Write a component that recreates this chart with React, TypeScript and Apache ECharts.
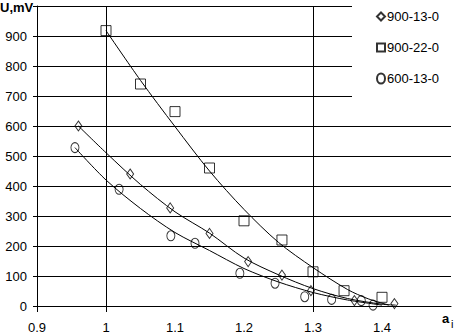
import React, { useEffect, useRef } from "react";
import * as echarts from "echarts";

// Measured points
const sq900_22_x = [1.0, 1.05, 1.1, 1.15, 1.2, 1.255, 1.3, 1.345, 1.4];
const sq900_22_y = [918, 740, 648, 460, 284, 220, 114, 51, 29];

const di900_13_x = [0.96, 1.035, 1.093, 1.15, 1.206, 1.255, 1.297, 1.36, 1.418];
const di900_13_y = [600, 440, 327, 242, 148, 103, 51, 18, 8];

const ci600_13_x = [0.955, 1.019, 1.094, 1.129, 1.194, 1.245, 1.288, 1.327, 1.37, 1.387];
const ci600_13_y = [528, 389, 234, 209, 109, 76, 31, 22, 18, 3];

// Trend curves
const trend900_22_x = [1.0, 1.05, 1.1, 1.15, 1.2, 1.25, 1.3, 1.35, 1.38, 1.41];
const trend900_22_y = [918, 752, 598, 450, 322, 212, 128, 55, 24, 3];

const trend900_13_x = [0.96, 1.0, 1.05, 1.1, 1.15, 1.2, 1.25, 1.3, 1.35, 1.4, 1.42];
const trend900_13_y = [600, 511, 405, 314, 243, 160, 104, 58, 25, 6, 3];

const trend600_13_x = [0.955, 1.0, 1.05, 1.1, 1.15, 1.2, 1.25, 1.3, 1.35, 1.4];
const trend600_13_y = [528, 420, 325, 245, 185, 125, 80, 45, 20, 3];

const seriesNames = ["900-13-0", "900-22-0", "600-13-0"];
const verticalLines = [1.0, 1.3];
const xTickMarks = [0.9, 1.0, 1.3];

const DIAMOND = "path://M5 0L10 5L5 10L0 5Z";
const SQUARE = "path://M0 0H10V10H0Z";
const ELLIPSE = "path://M4 0A4 5 0 1 1 4 10A4 5 0 1 1 4 0Z";

const zip = (xs: number[], ys: number[]) => xs.map((x, i) => [x, ys[i]]);

const FONT = "'Liberation Sans', Arial, sans-serif";

export default function App() {
  const ref = useRef<HTMLDivElement>(null);
  useEffect(() => {
    if (!ref.current) return;
    const chart = echarts.init(ref.current, null, { renderer: "svg" });
    const pointStyle = {
      color: "rgba(255,255,255,0)",
      borderColor: "#000",
      borderWidth: 1,
    };
    const lineStyle = { color: "#000", width: 1 };
    chart.setOption({
      animation: false,
      backgroundColor: "#fff",
      textStyle: { fontFamily: FONT, color: "#000" },
      grid: { left: 37, top: 6, right: 7, bottom: 30 },
      xAxis: {
        type: "value",
        min: 0.9,
        max: 1.5,
        interval: 0.1,
        axisLine: { show: true, onZero: false, lineStyle: { color: "#000", width: 1 } },
        axisTick: {
          show: true,
          customValues: xTickMarks,
          length: 6,
          lineStyle: { color: "#000" },
        },
        splitLine: { show: false },
        axisLabel: {
          color: "#000",
          fontSize: 13,
          fontFamily: FONT,
          margin: 15,
          formatter: (v: number) => (Math.abs(v - 1.5) < 1e-6 ? "" : String(Math.round(v * 10) / 10)),
        },
      },
      yAxis: {
        type: "value",
        min: 0,
        max: 1000,
        interval: 100,
        axisLine: { show: true, lineStyle: { color: "#000", width: 1 } },
        axisTick: { show: true, length: 4, lineStyle: { color: "#000" } },
        splitLine: { show: true, lineStyle: { color: "#000", width: 1 } },
        axisLabel: {
          color: "#000",
          fontSize: 13,
          fontFamily: FONT,
          margin: 10,
          formatter: (v: number) => (v >= 1000 ? "" : String(v)),
        },
      },
      legend: {
        orient: "vertical",
        left: 352,
        top: 0,
        backgroundColor: "#fff",
        padding: [10, 20, 20, 24],
        itemGap: 18,
        itemWidth: 8,
        itemHeight: 10,
        textStyle: { fontSize: 13, fontFamily: FONT, color: "#000", padding: [0, 0, 0, -3] },
        data: seriesNames,
      },
      graphic: [
        {
          type: "text",
          left: 0,
          top: 1,
          style: { text: "U,mV", font: `bold 13px ${FONT}`, fill: "#000" },
        },
        {
          type: "text",
          left: 442,
          top: 312,
          style: { text: "a", font: `bold 13px ${FONT}`, fill: "#000" },
        },
        {
          type: "text",
          left: 451,
          top: 318,
          style: { text: "i", font: `11px ${FONT}`, fill: "#000" },
        },
      ],
      series: [
        {
          name: seriesNames[0],
          type: "scatter",
          symbol: DIAMOND,
          symbolSize: [7, 10],
          itemStyle: pointStyle,
          z: 3,
          data: zip(di900_13_x, di900_13_y),
          markLine: {
            silent: true,
            symbol: "none",
            label: { show: false },
            lineStyle: { color: "#000", width: 1, type: "solid" },
            data: verticalLines.map((v) => ({ xAxis: v })),
          },
        },
        {
          name: seriesNames[1],
          type: "scatter",
          symbol: SQUARE,
          symbolSize: [10, 10],
          itemStyle: pointStyle,
          z: 3,
          data: zip(sq900_22_x, sq900_22_y),
        },
        {
          name: seriesNames[2],
          type: "scatter",
          symbol: ELLIPSE,
          symbolSize: [8, 10],
          itemStyle: pointStyle,
          z: 3,
          data: zip(ci600_13_x, ci600_13_y),
        },
        {
          name: "trend-900-13-0",
          type: "line",
          showSymbol: false,
          smooth: 0.3,
          lineStyle,
          z: 4,
          data: zip(trend900_13_x, trend900_13_y),
        },
        {
          name: "trend-900-22-0",
          type: "line",
          showSymbol: false,
          smooth: 0.3,
          lineStyle,
          z: 4,
          data: zip(trend900_22_x, trend900_22_y),
        },
        {
          name: "trend-600-13-0",
          type: "line",
          showSymbol: false,
          smooth: 0.3,
          lineStyle,
          z: 4,
          data: zip(trend600_13_x, trend600_13_y),
        },
      ],
    });
    return () => chart.dispose();
  }, []);
  return <div ref={ref} style={{ width: 458, height: 336, position: "absolute", left: 0, top: 0 }} />;
}
